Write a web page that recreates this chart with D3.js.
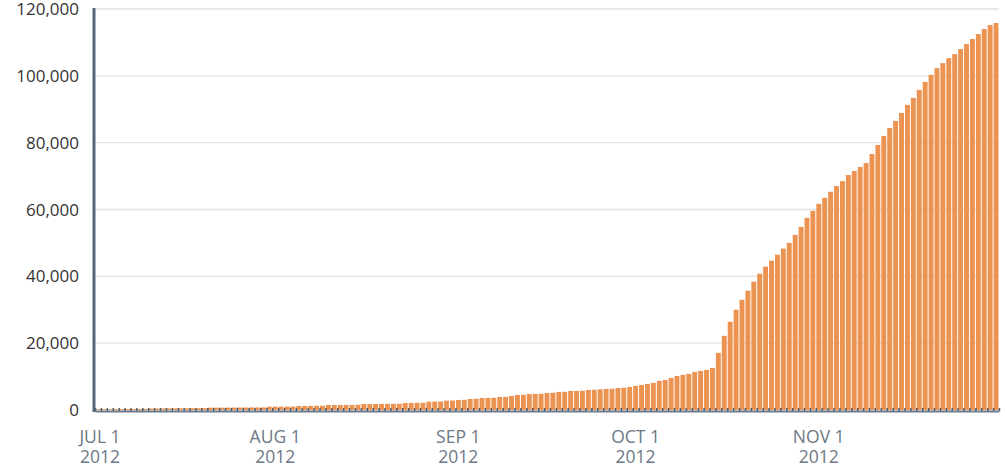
<!DOCTYPE html>
<html>
<head>
<meta charset="utf-8">
<script src="https://cdn.jsdelivr.net/npm/d3@7"></script>
<style>
  body { margin: 0; background: #fff; }
  text { font-family: "Open Sans", "Noto Sans", sans-serif; }
</style>
</head>
<body>
<div id="chart"></div>
<script>
// one bar per day, starting Jul 1 2012
const startDate = new Date(2012, 6, 1)
const endDate = new Date(2012, 11, 1)

const dailyTotals = [
  250, 250, 260, 270, 280, 290, 300, 310, 320,
  450, 460, 470, 480, 490, 500, 510, 520, 530, 540,
  700, 710, 720, 730, 740, 750, 760, 770, 780, 790,
  1000, 1010, 1020, 1030, 1040,
  1200, 1220, 1240, 1260, 1280,
  1500, 1510, 1520, 1530, 1540, 1550,
  1800, 1810, 1820, 1830, 1840, 1850, 1860,
  2100, 2120, 2140, 2160,
  2500, 2520, 2540,
  2800, 2830,
  3000, 3050,
  3300, 3350,
  3600, 3620, 3650,
  3900, 3950,
  4200,
  4500, 4550,
  4800, 4820, 4850,
  5100, 5150,
  5400, 5450,
  5700, 5720, 5750,
  6000, 6050,
  6200,
  6300, 6350, 6600, 6650,
  6900, 7200, 7500, 7800, 8100, 8700, 9000, 9600, 10200, 10500, 10800, 11400, 11700, 12000, 12600,
  17100, 22200, 26400, 30000, 33000, 35700, 38400, 40800, 42900, 44700, 46500,
  48300, 50000, 52400, 54800, 57500, 59600, 61700, 63500, 65300, 67000, 68500, 70300, 71500, 72700,
  73900, 76600, 79300, 82000, 84400, 86500, 88900, 91300, 93400, 95800, 98200, 100300, 102300,
  103800, 105300, 106500, 108000, 109500, 111000, 112500, 114000, 115200, 115800
]

const yTicks = [0, 20000, 40000, 60000, 80000, 100000, 120000]
const monthTicks = [new Date(2012, 6, 1), new Date(2012, 7, 1), new Date(2012, 8, 1), new Date(2012, 9, 1), new Date(2012, 10, 1)]

const width = 1007
const height = 475

const data = dailyTotals.map(function(v, i) {
  return { date: d3.timeDay.offset(startDate, i), value: v }
})

const xScale = d3.scaleTime().domain([startDate, endDate]).range([95, 999])
const yScale = d3.scaleLinear().domain([0, 120000]).range([410, 9])

const svg = d3.select('#chart').append('svg').attr('width', width).attr('height', height)

// gridlines
svg.append('g').selectAll('line').data(yTicks.slice(1))
  .enter()
  .append('line')
  .attr('x1', 94)
  .attr('x2', 999)
  .attr('y1', function(d) { return yScale(d) })
  .attr('y2', function(d) { return yScale(d) })
  .attr('stroke', '#e1e3e3')
  .attr('stroke-width', 1.3)

// bars
svg.append('g').selectAll('rect').data(data)
  .enter()
  .append('rect')
  .attr('x', function(d) { return xScale(d.date) + 0.5 })
  .attr('width', function(d) {
    return xScale(d3.timeDay.offset(d.date, 1)) - xScale(d.date) - 1
  })
  .attr('y', function(d) { return yScale(d.value) })
  .attr('height', function(d) { return yScale(0) - yScale(d.value) })
  .attr('fill', '#ec9352')

// x axis: daily ticks pointing up
const xAxis = d3.axisBottom(xScale)
  .ticks(d3.timeDay.every(1))
  .tickSizeInner(-3)
  .tickSizeOuter(0)
  .tickFormat('')

const gx = svg.append('g').attr('transform', 'translate(0,411)').call(xAxis)
gx.select('.domain').attr('stroke', '#6a7c8e').attr('stroke-width', 2)
gx.selectAll('.tick line').attr('stroke', '#4d5b69').attr('stroke-width', 1.5)

// month labels
const fmtMonth = d3.timeFormat('%b %-d')
const labels = svg.append('g').selectAll('g').data(monthTicks)
  .enter()
  .append('g')
  .attr('transform', function(d) {
    return 'translate(' + Math.max(xScale(d) - 3, 100) + ',0)'
  })
labels.append('text')
  .attr('y', 443)
  .attr('text-anchor', 'middle')
  .attr('font-size', '17.5px')
  .attr('fill', '#6c7986')
  .text(function(d) { return fmtMonth(d).toUpperCase() })
labels.append('text')
  .attr('y', 463)
  .attr('text-anchor', 'middle')
  .attr('font-size', '17.5px')
  .attr('fill', '#6c7986')
  .text(function(d) { return d.getFullYear() })

// y labels
svg.append('g').selectAll('text').data(yTicks)
  .enter()
  .append('text')
  .attr('x', 79)
  .attr('y', function(d) { return yScale(d) + 6 })
  .attr('text-anchor', 'end')
  .attr('font-size', '17px')
  .attr('fill', '#333')
  .text(function(d) { return d3.format(',')(d) })

// y axis line
svg.append('line')
  .attr('x1', 94).attr('x2', 94)
  .attr('y1', 8).attr('y2', 412)
  .attr('stroke', '#56677a')
  .attr('stroke-width', 3)
</script>
</body>
</html>
